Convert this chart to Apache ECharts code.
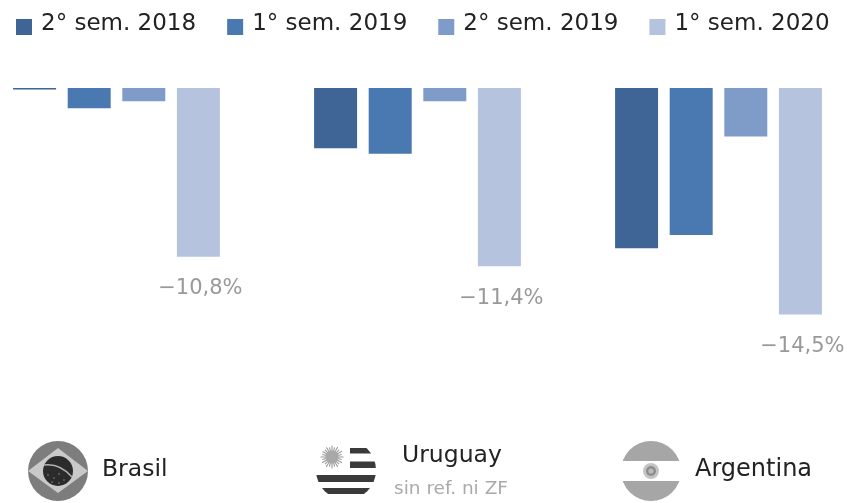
<!DOCTYPE html>
<html><head><meta charset="utf-8">
<style>html,body{margin:0;padding:0;background:#fff}#c{width:847px;height:503px}</style>
<script src="https://cdn.jsdelivr.net/npm/echarts@6/dist/echarts.min.js"></script>
</head><body><div id="c"></div>
<script>
const categories = ['Brasil', 'Uruguay', 'Argentina'];
const periods = ['2° sem. 2018', '1° sem. 2019', '2° sem. 2019', '1° sem. 2020'];
const sem2018b = [-0.1, -3.85, -10.25];
const sem2019a = [-1.3, -4.2, -9.4];
const sem2019b = [-0.85, -0.85, -3.1];
const sem2020a = [-10.8, -11.4, -14.5];
const note = 'sin ref. ni ZF';
const colors = ['#3e6595', '#4a78b0', '#7f9cc8', '#b5c3de'];
const FONT = '"DejaVu Sans", sans-serif';

const svgUri = s => 'data:image/svg+xml;charset=utf-8,' + encodeURIComponent(
  '<svg xmlns="http://www.w3.org/2000/svg" width="60" height="60" viewBox="0 0 60 60"><defs><clipPath id="k"><circle cx="30" cy="30" r="30"/></clipPath></defs><g clip-path="url(#k)">' + s + '</g></svg>');

const flagBrasil = svgUri('<rect width="60" height="60" fill="#7d7d7d"/><polygon points="0,30 30,7 60,30 30,52" fill="#c9c9c9"/><circle cx="30" cy="30" r="15" fill="#2b2b2b"/><path d="M16 24 Q32 22 44 36" stroke="#b0b0b0" stroke-width="1.5" fill="none"/><g fill="#8a8a8a"><circle cx="20" cy="34" r="0.8"/><circle cx="26" cy="37" r="0.8"/><circle cx="31" cy="33" r="0.8"/><circle cx="36" cy="39" r="0.8"/><circle cx="24" cy="41" r="0.8"/><circle cx="31" cy="42" r="0.8"/></g>');
const sunRays = [0,1,2,3,4,5,6,7,8,9,10,11,12,13,14,15,16,17,18,19,20,21,22,23].map(i => '<line x1="16" y1="17" x2="16" y2="' + (i % 2 ? 7 : 5.5) + '" stroke="#999" stroke-width="1.1" transform="rotate(' + (i * 15) + ' 16 17)"/>').join('');
const flagUruguay = svgUri(
  '<rect x="34" y="8" width="26" height="5.5" fill="#3a3a3a"/><rect x="34" y="21.5" width="26" height="6.5" fill="#3a3a3a"/>' +
  '<rect x="0" y="35" width="60" height="7" fill="#3a3a3a"/><rect x="0" y="48" width="60" height="6" fill="#3a3a3a"/>' +
  sunRays + '<circle cx="16" cy="17" r="6.5" fill="#a8a8a8"/>');
const flagArgentina = svgUri('<rect width="60" height="20" fill="#a6a6a6"/><rect y="40" width="60" height="20" fill="#a6a6a6"/><rect y="20" width="60" height="20" fill="#fff"/><circle cx="30" cy="30" r="8" fill="#c4c4c4"/><circle cx="30" cy="30" r="5" fill="#8c8c8c"/><circle cx="30" cy="30" r="2.6" fill="#bbb"/>');

const seriesValues = [sem2018b, sem2019a, sem2019b, sem2020a];
const series = periods.map((name, i) => ({
  name, type: 'bar', data: seriesValues[i], barWidth: 43, barGap: '27%',
  itemStyle: {color: colors[i]},
  emphasis: {disabled: true},
  label: i === 3 ? {
    show: true, position: 'bottom', distance: 21.5, offset: [2, 0], color: '#999999',
    fontFamily: FONT, fontSize: 21,
    formatter: p => '\u2212' + Math.abs(p.value).toFixed(1).replace('.', ',') + '%'
  } : {show: false}
}));

const txt = (x, y, text, size, fill) => ({
  type: 'text', x, y, silent: true,
  style: {text, fontFamily: FONT, fontSize: size, fill, textAlign: 'left', textVerticalAlign: 'middle'}
});
const img = (x, y, image) => ({type: 'image', x, y, silent: true, style: {image, width: 60, height: 60}});

const chart = echarts.init(document.getElementById('c'), null, {renderer: 'canvas'});
chart.setOption({
  animation: false,
  backgroundColor: '#ffffff',
  color: colors,
  legend: {
    data: periods, left: 11, top: 8, itemWidth: 16, itemHeight: 16, itemGap: 31,
    icon: 'rect', selectedMode: false,
    formatter: n => '{a|' + n + '}',
    textStyle: {
      fontFamily: FONT, fontSize: 23, color: '#222222', width: 156, padding: [0, 0, 0, 4],
      rich: {a: {fontFamily: FONT, fontSize: 23, color: '#222222', padding: [0, 0, 5, 0]}}
    }
  },
  grid: {left: -34, top: 88, width: 903, height: 312.5, outerBoundsMode: 'none'},
  xAxis: {type: 'category', data: categories, show: false},
  yAxis: {type: 'value', min: -20, max: 0, show: false},
  series,
  graphic: {elements: [
    img(28, 441, flagBrasil), img(316, 440, flagUruguay), img(621, 441, flagArgentina),
    txt(102, 470, categories[0], 23.5, '#222222'),
    txt(402, 456, categories[1], 23.5, '#222222'),
    txt(394, 489, note, 18.5, '#aaaaaa'),
    txt(695, 470, categories[2], 24, '#222222')
  ]}
});
</script></body></html>
